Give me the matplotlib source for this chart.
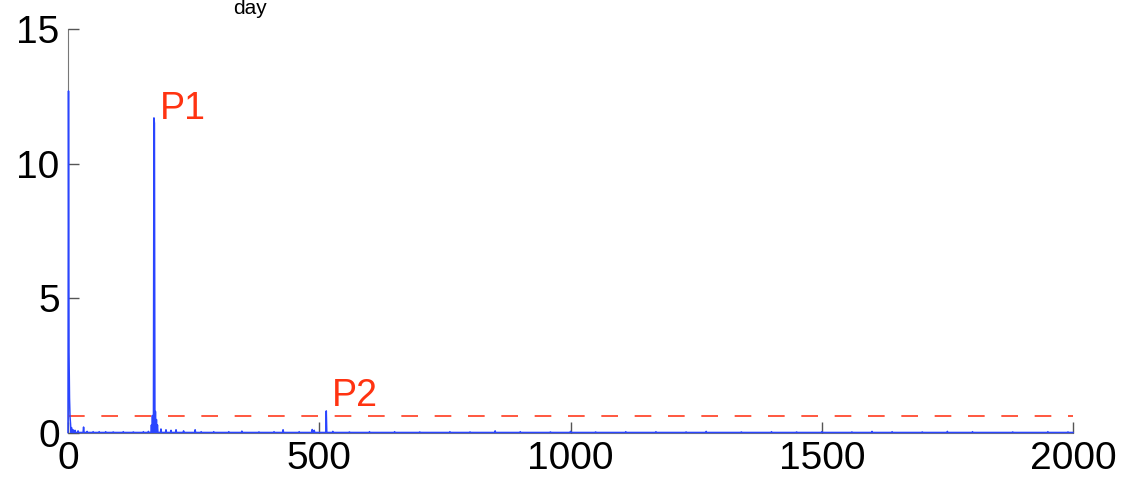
import numpy as np
import matplotlib
matplotlib.use("Agg")
import matplotlib.pyplot as plt

plt.rcParams['font.family'] = ['Liberation Sans', 'DejaVu Sans']

# Spectrum peaks: frequency (day) and amplitude
peak_freqs = [1, 2, 3, 4, 5, 7, 10, 14, 20, 31, 38, 50, 62, 75, 90, 110, 130, 150, 160,
              166, 168, 171, 172, 174, 176, 178, 185, 195, 205, 215, 230, 253, 265, 290, 320, 346,
              380, 410, 428, 460, 486, 490, 514, 527, 560, 600, 650, 700, 760, 800, 850,
              900, 960, 1000, 1050, 1110, 1170, 1230, 1270, 1340, 1400, 1450, 1500, 1560,
              1600, 1640, 1700, 1750, 1800, 1880, 1950, 1990]
peak_amps = [12.7, 3.0, 1.3, 0.6, 0.35, 0.2, 0.12, 0.1, 0.08, 0.22, 0.06, 0.05, 0.05, 0.05,
             0.04, 0.05, 0.04, 0.05, 0.06,
             0.3, 0.65, 11.7, 11.5, 0.8, 0.5, 0.3, 0.15, 0.12, 0.1, 0.12, 0.08, 0.12, 0.05, 0.05, 0.05, 0.07,
             0.04, 0.05, 0.12, 0.05, 0.13, 0.1, 0.82, 0.06, 0.04, 0.05, 0.05, 0.04, 0.05, 0.04, 0.08,
             0.05, 0.04, 0.06, 0.04, 0.05, 0.05, 0.04, 0.06, 0.04, 0.05, 0.04, 0.05, 0.04,
             0.06, 0.05, 0.04, 0.06, 0.05, 0.04, 0.05, 0.04]
baseline = 0.02
threshold = 0.63

freq = np.arange(0, 2001, 1)
amp = np.full(freq.shape, baseline, dtype=float)
for f, a in zip(peak_freqs, peak_amps):
    amp[f] = max(amp[f], a)

fig = plt.figure(figsize=(11.32, 4.82), dpi=100)
ax = fig.add_axes([68/1132, 49/482, 1005/1132, 404/482])

ax.plot(freq, amp, color='#2a45ff', lw=1.1, zorder=3, clip_on=False)
ax.axhline(threshold, color='#ff3b1f', lw=1.2, ls=(0, (10, 10)), zorder=2)

ax.text(182, 11.35, 'P1', color='#ff3311', fontsize=27, ha='left', va='bottom')
ax.text(525, 0.72, 'P2', color='#ff3311', fontsize=27, ha='left', va='bottom')

ax.set_xlim(0, 2000)
ax.set_ylim(0, 15)
ax.set_xticks([0, 500, 1000, 1500, 2000])
ax.set_yticks([0, 5, 10, 15])
ax.tick_params(direction='in', length=8, width=1, colors='#555555', labelsize=28,
               labelcolor='black', pad=6)
for s in ['top', 'right']:
    ax.spines[s].set_visible(False)
for s in ['left', 'bottom']:
    ax.spines[s].set_color('#777777')
    ax.spines[s].set_zorder(1)

fig.text(250/1132, 1 - 9/482, 'day', fontsize=15, ha='center', va='center')

fig.savefig('out.png', dpi=100)
